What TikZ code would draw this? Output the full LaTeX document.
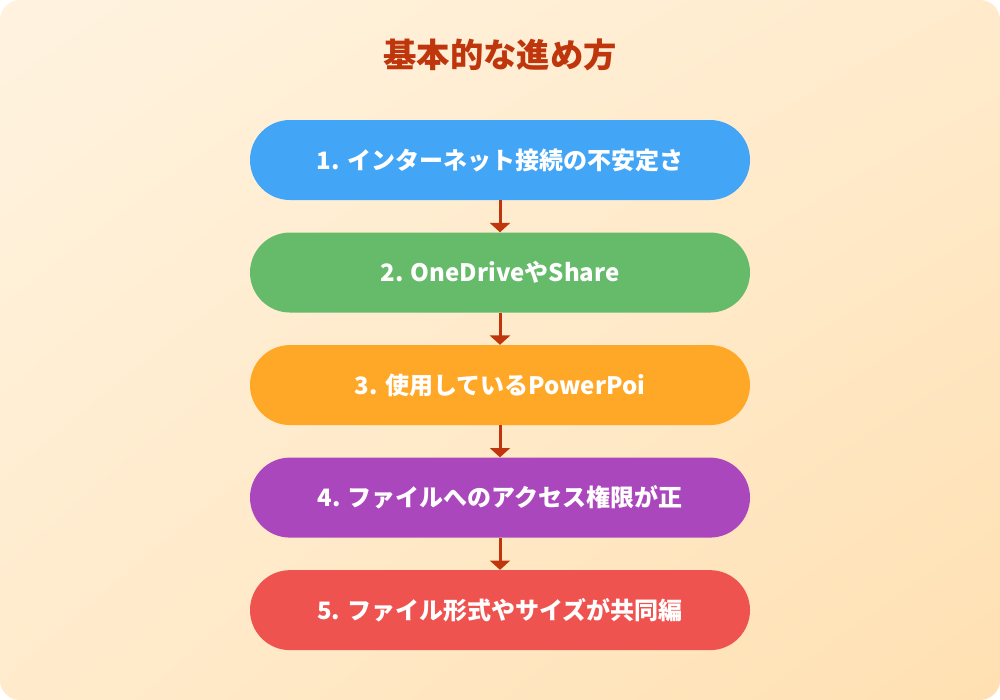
\documentclass[tikz,border=0pt]{standalone}
\usepackage{fontspec}
\setmainfont{Noto Sans CJK JP}
\usetikzlibrary{arrows.meta,positioning,shadings}
\definecolor{bgtop}{HTML}{FFF3E0}
\definecolor{bgmid}{HTML}{FFEBCC}
\definecolor{bgbottom}{HTML}{FFE0B2}
\definecolor{titlered}{HTML}{BF360C}
\definecolor{stepblue}{HTML}{42A5F5}
\definecolor{stepgreen}{HTML}{66BB6A}
\definecolor{steporange}{HTML}{FFA726}
\definecolor{steppurple}{HTML}{AB47BC}
\definecolor{stepred}{HTML}{EF5350}

\begin{document}
\begin{tikzpicture}[
    x=0.75pt, y=-0.75pt,
    flowbox/.style={rounded corners=30pt, minimum width=375pt, minimum height=60pt,
        text=white, font=\bfseries\fontsize{18pt}{22pt}\selectfont},
    flow arrow/.style={-{Triangle[width=15pt,length=7pt]}, line width=2.25pt, titlered},
    title label/.style={font=\bfseries\fontsize{25pt}{29pt}\selectfont, text=titlered}
]

% Background
\useasboundingbox (0,0) rectangle (1000,700);
\shade[rounded corners=15pt, upper left=bgtop, lower right=bgbottom,
    upper right=bgmid, lower left=bgmid] (0,0) rectangle (1000,700);

% Title
\node[title label] (title) at (500,55) {基本的な進め方};

% === Steps ===
\node[flowbox, fill=stepblue] (s1) at (500,160) {1. インターネット接続の不安定さ};
\node[flowbox, fill=stepgreen, below=24pt of s1] (s2) {2. OneDriveやShare};
\node[flowbox, fill=steporange, below=24pt of s2] (s3) {3. 使用しているPowerPoi};
\node[flowbox, fill=steppurple, below=24pt of s3] (s4) {4. ファイルへのアクセス権限が正};
\node[flowbox, fill=stepred, below=24pt of s4] (s5) {5. ファイル形式やサイズが共同編};

% Arrows between steps
\draw[flow arrow] (s1) -- (s2);
\draw[flow arrow] (s2) -- (s3);
\draw[flow arrow] (s3) -- (s4);
\draw[flow arrow] (s4) -- (s5);

\end{tikzpicture}
\end{document}
